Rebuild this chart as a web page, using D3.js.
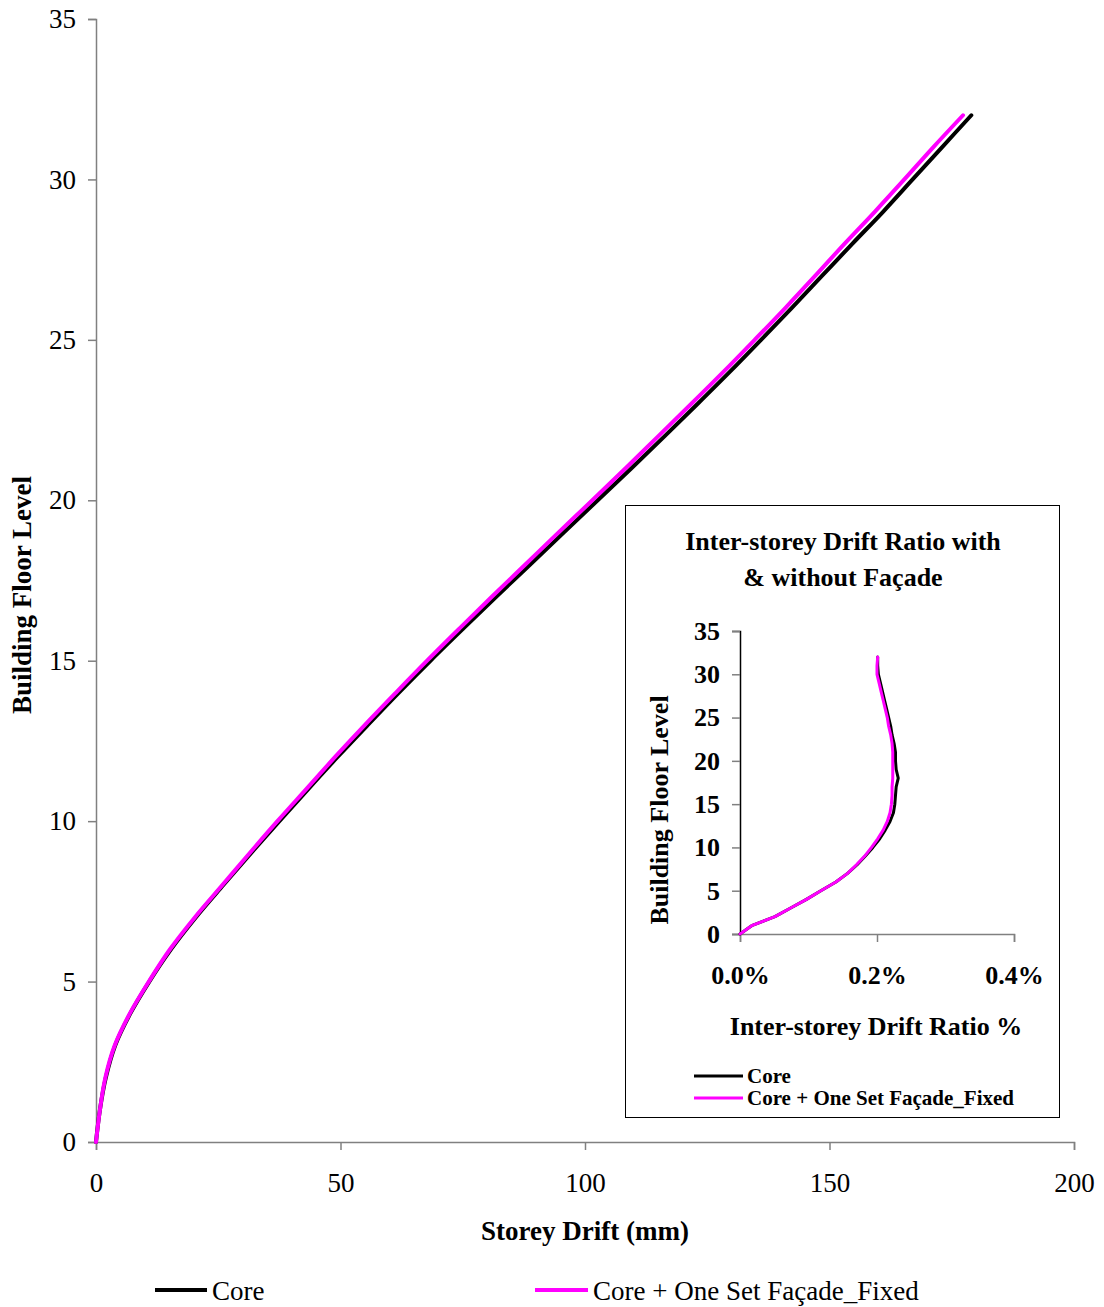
<!DOCTYPE html>
<html>
<head>
<meta charset="utf-8">
<script src="https://cdn.jsdelivr.net/npm/d3@7"></script>
<style>
  html, body { margin: 0; padding: 0; background: #fff; }
  svg { display: block; font-family: "Liberation Serif", "Times New Roman", serif; }
</style>
</head>
<body>
<svg id="chart" width="1104" height="1307"></svg>
<script>
// ---------- data ----------
const floors = d3.range(0, 33); // 0..32
const coreDrift = [0, 0.8, 2.0, 3.9, 7.0, 10.9, 15.3, 20.4, 26.0, 31.7, 37.5, 43.4, 49.4, 55.6, 61.9, 68.4,
  75.1, 81.9, 88.8, 95.7, 102.6, 109.5, 116.3, 123.0, 129.6, 136.0, 142.3, 148.5, 154.7, 161.0, 167.0, 173.0, 179.0];
const facadeDrift = [0, 0.8, 1.9, 3.8, 6.9, 10.8, 15.1, 20.2, 25.8, 31.4, 37.1, 43.0, 48.9, 55.0, 61.3, 67.7,
  74.3, 81.0, 87.8, 94.6, 101.5, 108.3, 115.0, 121.7, 128.3, 134.7, 141.0, 147.1, 153.1, 159.3, 165.3, 171.2, 177.3];
const coreRatio = [0, 0.018, 0.051, 0.074, 0.097, 0.118, 0.140, 0.157, 0.171, 0.183, 0.194, 0.204, 0.212, 0.219,
  0.224, 0.226, 0.227, 0.228, 0.231, 0.228, 0.227, 0.227, 0.225, 0.222, 0.220, 0.217, 0.214, 0.211, 0.208, 0.205, 0.202, 0.201, 0.201];
const facadeRatio = [0, 0.018, 0.051, 0.074, 0.097, 0.118, 0.140, 0.157, 0.170, 0.182, 0.192, 0.201, 0.209, 0.215,
  0.219, 0.221, 0.222, 0.222, 0.223, 0.223, 0.223, 0.223, 0.222, 0.220, 0.217, 0.215, 0.212, 0.209, 0.206, 0.203, 0.200, 0.200, 0.201];
const mainXTicks = [0, 50, 100, 150, 200];
const mainYTicks = [0, 5, 10, 15, 20, 25, 30, 35];
const insetXTicks = [0, 0.2, 0.4];
const insetYTicks = [0, 5, 10, 15, 20, 25, 30, 35];
const seriesNames = ["Core", "Core + One Set Façade_Fixed"];
const seriesColors = ["#000000", "#FF00FF"];

const svg = d3.select("#chart");

// ---------- main chart ----------
const x = d3.scaleLinear().domain([0, 200]).range([96, 1074]);
const y = d3.scaleLinear().domain([0, 35]).range([1142, 19]);

const xAxis = svg.append("g").attr("transform", "translate(0,1142)")
  .call(d3.axisBottom(x).tickValues(mainXTicks).tickSize(8).tickPadding(23).tickFormat(d3.format("d")));
const yAxis = svg.append("g").attr("transform", "translate(96,0)")
  .call(d3.axisLeft(y).tickValues(mainYTicks).tickSize(8).tickPadding(12).tickFormat(d3.format("d")));
[xAxis, yAxis].forEach(g => {
  g.select(".domain").attr("stroke", "#808080").attr("stroke-width", 1.5);
  g.selectAll(".tick line").attr("stroke", "#808080").attr("stroke-width", 1.5);
  g.selectAll(".tick text").attr("font-family", "Liberation Serif").attr("font-size", 27).attr("fill", "#000");
});

svg.append("text").attr("x", 585).attr("y", 1240).attr("text-anchor", "middle")
  .attr("font-size", 27).attr("font-weight", "bold").text("Storey Drift (mm)");
svg.append("text").attr("transform", "translate(31,595) rotate(-90)").attr("text-anchor", "middle")
  .attr("font-size", 27).attr("font-weight", "bold").text("Building Floor Level");

const mainLine = vals => d3.line().curve(d3.curveCatmullRom).x((d, i) => x(vals[i])).y(d => y(d))(floors);
[coreDrift, facadeDrift].forEach((vals, k) => {
  svg.append("path").attr("d", mainLine(vals)).attr("fill", "none")
    .attr("stroke", seriesColors[k]).attr("stroke-width", 4)
    .attr("stroke-linejoin", "round").attr("stroke-linecap", "round");
});

// main legend
const mainLegend = [{x1: 155, x2: 207, tx: 212}, {x1: 535, x2: 588, tx: 593}];
mainLegend.forEach((p, k) => {
  svg.append("line").attr("x1", p.x1).attr("x2", p.x2).attr("y1", 1290).attr("y2", 1290)
    .attr("stroke", seriesColors[k]).attr("stroke-width", 4);
  svg.append("text").attr("x", p.tx).attr("y", 1300).attr("font-size", 27).text(seriesNames[k]);
});

// ---------- inset ----------
svg.append("rect").attr("x", 625.5).attr("y", 505.5).attr("width", 434).attr("height", 612)
  .attr("fill", "#fff").attr("stroke", "#000").attr("stroke-width", 1);

svg.append("text").attr("x", 843).attr("y", 550).attr("text-anchor", "middle")
  .attr("font-size", 26).attr("font-weight", "bold").text("Inter-storey Drift Ratio with");
svg.append("text").attr("x", 843).attr("y", 586).attr("text-anchor", "middle")
  .attr("font-size", 26).attr("font-weight", "bold").text("& without Façade");

const ix = d3.scaleLinear().domain([0, 0.4]).range([740, 1014]);
const iy = d3.scaleLinear().domain([0, 35]).range([934, 631]);

const ixAxis = svg.append("g").attr("transform", "translate(0,934)")
  .call(d3.axisBottom(ix).tickValues(insetXTicks).tickSize(8).tickPadding(24)
    .tickFormat(d => d.toFixed(1) + "%"));
const iyAxis = svg.append("g").attr("transform", "translate(740,0)")
  .call(d3.axisLeft(iy).tickValues(insetYTicks).tickSize(8).tickPadding(12).tickFormat(d3.format("d")));
ixAxis.select(".domain").attr("stroke", "#808080").attr("stroke-width", 1.5);
iyAxis.select(".domain").attr("stroke", "#000").attr("stroke-width", 1.5);
[ixAxis, iyAxis].forEach(g => {
  g.selectAll(".tick line").attr("stroke", "#808080").attr("stroke-width", 1.5);
  g.selectAll(".tick text").attr("font-family", "Liberation Serif").attr("font-size", 26)
    .attr("font-weight", "bold").attr("fill", "#000");
});

svg.append("text").attr("x", 876).attr("y", 1035).attr("text-anchor", "middle")
  .attr("font-size", 26).attr("font-weight", "bold").text("Inter-storey Drift Ratio %");
svg.append("text").attr("transform", "translate(668,810) rotate(-90)").attr("text-anchor", "middle")
  .attr("font-size", 26).attr("font-weight", "bold").text("Building Floor Level");

const insetLine = vals => d3.line().x((d, i) => ix(vals[i])).y(d => iy(d))(floors);
[coreRatio, facadeRatio].forEach((vals, k) => {
  svg.append("path").attr("d", insetLine(vals)).attr("fill", "none")
    .attr("stroke", seriesColors[k]).attr("stroke-width", 3)
    .attr("stroke-linejoin", "round").attr("stroke-linecap", "round");
});

// inset legend
[1076, 1098].forEach((ly, k) => {
  svg.append("line").attr("x1", 694).attr("x2", 743).attr("y1", ly).attr("y2", ly)
    .attr("stroke", seriesColors[k]).attr("stroke-width", 3);
  svg.append("text").attr("x", 747).attr("y", ly + 7).attr("font-size", 21).attr("font-weight", "bold")
    .text(seriesNames[k]);
});
</script>
</body>
</html>
